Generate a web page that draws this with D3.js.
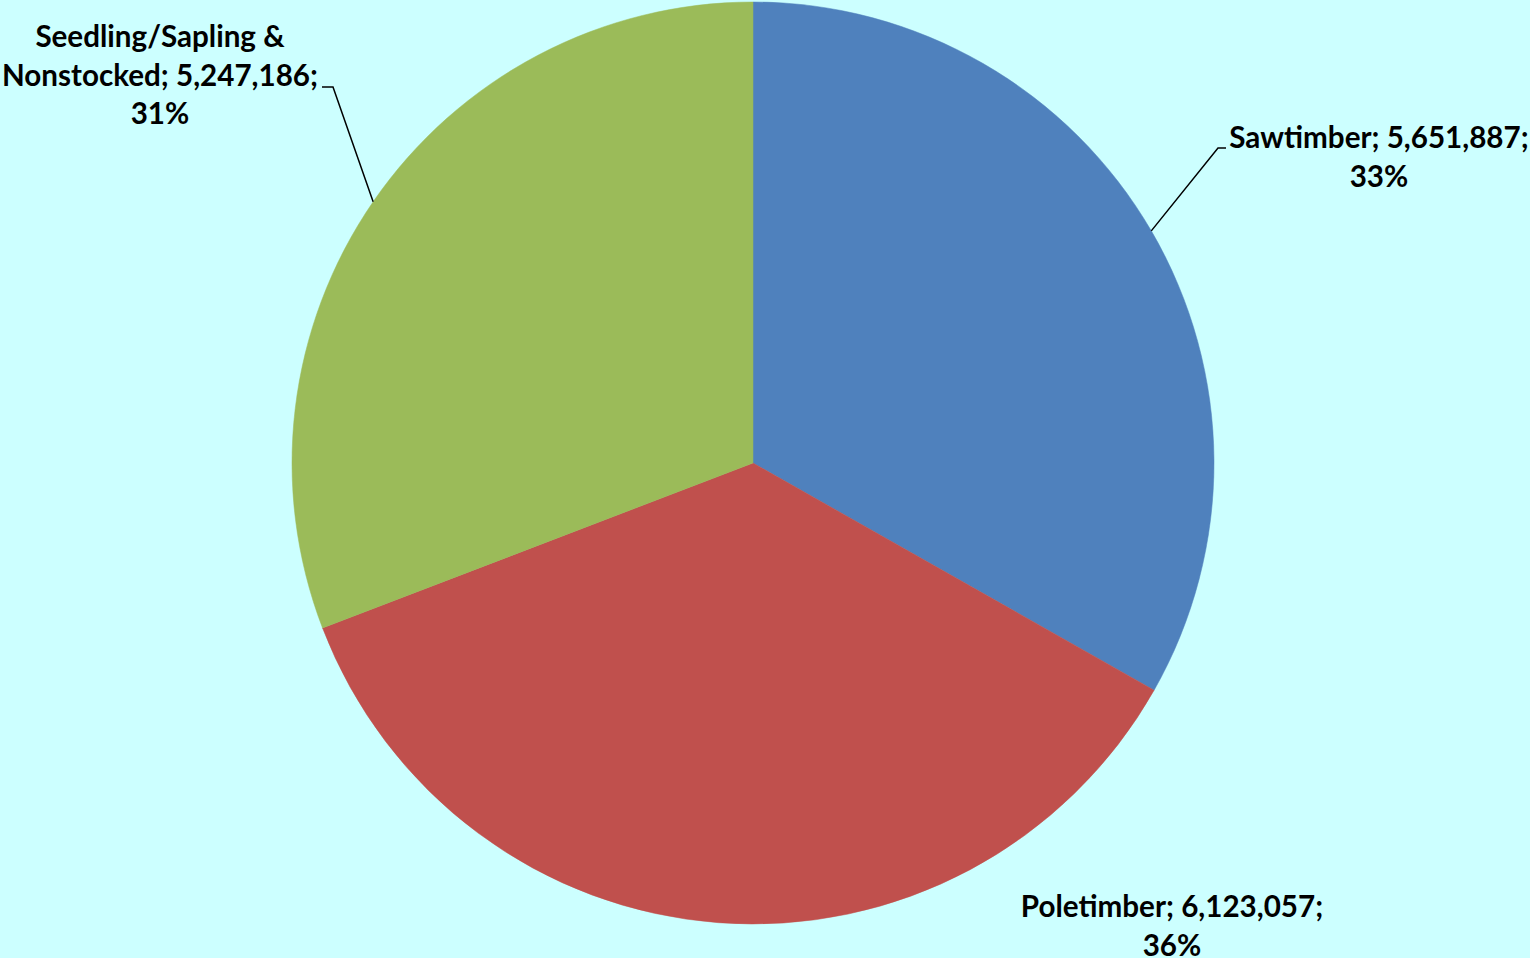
<!DOCTYPE html>
<html>
<head>
<meta charset="utf-8">
<script src="https://cdn.jsdelivr.net/npm/d3@7"></script>
<style>
  html, body { margin: 0; padding: 0; background: #ccffff; }
  svg { display: block; }
  .lbl { font-family: Lato, "Open Sans", sans-serif; font-weight: bold; font-size: 29.6px; fill: #000; }
</style>
</head>
<body>
<div id="chart"></div>
<script>
// data
const categories = ["Sawtimber", "Poletimber", "Seedling/Sapling & Nonstocked"];
const values = [5651887, 6123057, 5247186];
const colors = ["#4f81bd", "#c0504d", "#9bbb59"];

// label text lines (break as in the original) and where each block sits
const labelLines = [
  ["Sawtimber; 5,651,887;", "33%"],
  ["Poletimber; 6,123,057;", "36%"],
  ["Seedling/Sapling &", "Nonstocked; 5,247,186;", "31%"]
];
const labelPos = [
  {x: 1379, y: 148, leader: [1218, 148, 1226, 148]},
  {x: 1172, y: 917, leader: null},
  {x: 160, y: 47, leader: [333, 87, 322, 87]}
];

const width = 1530, height = 958;
const cx = 753, cy = 463, radius = 461;
const lineH = 38.5;

let svg = d3.select("#chart").append("svg").attr("width", width).attr("height", height);
svg.append("rect").attr("width", width).attr("height", height).attr("fill", "#ccffff");

let pie = d3.pie().sort(null).value(d => d)(values);
let arc = d3.arc().innerRadius(0).outerRadius(radius);

let g = svg.append("g").attr("transform", "translate(" + cx + "," + cy + ")");
g.selectAll("path")
  .data(pie)
  .enter().append("path")
  .attr("d", arc)
  .attr("fill", (d, i) => colors[i])
  .attr("stroke", (d, i) => colors[i])
  .attr("stroke-width", 0.5);

// leader lines from slice mid-angle on the rim to the label
pie.forEach((d, i) => {
  let p = labelPos[i];
  if (!p.leader) return;
  let a = (d.startAngle + d.endAngle) / 2;
  let sx = cx + radius * Math.sin(a), sy = cy - radius * Math.cos(a);
  svg.append("polyline")
    .attr("points", [[sx, sy], [p.leader[0], p.leader[1]], [p.leader[2], p.leader[3]]].map(q => q.join(",")).join(" "))
    .attr("fill", "none")
    .attr("stroke", "#000")
    .attr("stroke-width", 1.5);
});

labelLines.forEach((lines, i) => {
  let t = svg.append("text").attr("class", "lbl").attr("text-anchor", "middle");
  lines.forEach((s, k) => {
    t.append("tspan").attr("x", labelPos[i].x).attr("y", labelPos[i].y + k * lineH).text(s);
  });
});
</script>
</body>
</html>
